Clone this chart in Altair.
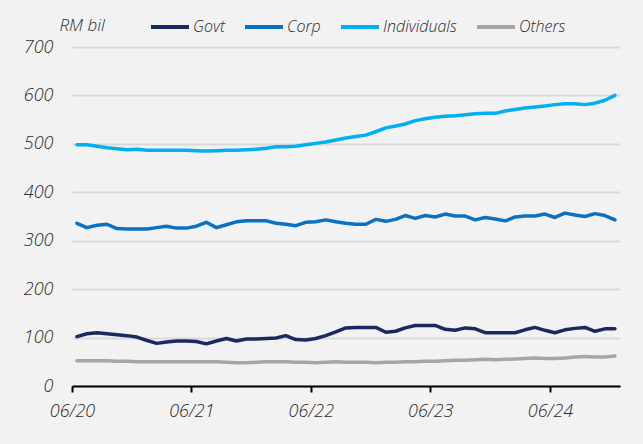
import altair as alt
import pandas as pd

# Monthly data, Jun 2020 .. Dec 2024
months = pd.date_range("2020-06-01", periods=55, freq="MS").strftime("%Y-%m-%d").tolist()

govt = [102, 108, 110, 108, 106, 104, 101, 94, 88, 91,
        93, 93, 92, 87, 93, 98, 93, 97, 97, 98,
        99, 104, 96, 95, 98, 104, 112, 120, 121, 121,
        121, 111, 113, 120, 125, 125, 125, 117, 115, 120,
        118, 110, 110, 110, 110, 116, 121, 115, 110, 116,
        119, 121, 113, 118, 118]
corp = [336, 327, 332, 334, 325, 324, 324, 324, 327, 330,
        326, 326, 330, 338, 327, 333, 339, 341, 341, 341,
        336, 334, 331, 338, 339, 343, 339, 336, 334, 334,
        344, 340, 344, 352, 346, 352, 349, 355, 351, 351,
        343, 348, 345, 341, 349, 351, 351, 355, 348, 357,
        353, 350, 356, 352, 343]
individuals = [498, 498, 495, 492, 490, 488, 489, 487, 487, 487,
               487, 487, 486, 485, 486, 487, 487, 488, 489, 491,
               494, 494, 495, 498, 501, 504, 508, 512, 515, 518,
               525, 533, 537, 541, 548, 552, 555, 557, 558, 560,
               562, 563, 563, 568, 571, 574, 576, 578, 581, 583,
               583, 581, 584, 590, 600]
others = [52, 52, 52, 52, 51, 51, 50, 50, 50, 50,
          50, 50, 50, 50, 50, 49, 48, 48, 49, 50,
          50, 50, 49, 49, 48, 49, 50, 49, 49, 49,
          48, 49, 49, 50, 50, 51, 51, 52, 53, 53,
          54, 55, 54, 55, 56, 57, 58, 57, 57, 58,
          60, 61, 60, 60, 62]

series_names = ["Govt", "Corp", "Individuals", "Others"]
series_colors = ["#1b2a5e", "#0a72c2", "#00b0f0", "#a6a6a6"]
y_ticks = [0, 100, 200, 300, 400, 500, 600, 700]
tick_years = [2020, 2021, 2022, 2023, 2024]

rows = []
for name, vals in zip(series_names, [govt, corp, individuals, others]):
    for m, v in zip(months, vals):
        rows.append({"month": m, "series": name, "value": v})
df = pd.DataFrame(rows)

FONT = "Open Sans"
TXT = "#2b2b2b"
W = 300

chart = alt.Chart(df).mark_line(
    strokeWidth=3.5, strokeCap="round", strokeJoin="round"
).encode(
    x=alt.X(
        "month:T", timeUnit="utcyearmonth", bandPosition=0.5,
        scale=alt.Scale(domain=[alt.DateTime(year=2020, month=6, date=1, utc=True),
                                alt.DateTime(year=2025, month=1, date=1, utc=True)]),
        axis=alt.Axis(
            values=[alt.DateTime(year=y, month=6, date=1, utc=True) for y in tick_years],
            labelExpr="utcFormat(datum.value, '%m/%y')",
            title=None, grid=False, labelFlush=False, labelOverlap=False,
            domainColor="#000000", domainWidth=2,
            tickColor="#000000", tickWidth=2, tickSize=6,
            labelPadding=10, labelFontSize=18, labelFont=FONT,
            labelFontStyle="italic", labelFontWeight=W, labelColor=TXT,
        ),
    ),
    y=alt.Y(
        "value:Q",
        scale=alt.Scale(domain=[0, 700]),
        axis=alt.Axis(
            values=y_ticks, title="RM bil", titleAngle=0,
            titleX=-13, titleY=-22, titleAlign="left", titleBaseline="middle",
            titleFont=FONT, titleFontSize=17, titleFontStyle="italic",
            titleFontWeight=W, titleColor=TXT,
            domain=False, ticks=False, labelPadding=19,
            gridColor="#d9d9d9", gridWidth=2,
            labelFontSize=18, labelFont=FONT, labelFontStyle="italic",
            labelFontWeight=W, labelColor=TXT,
        ),
    ),
    color=alt.Color(
        "series:N",
        scale=alt.Scale(domain=series_names, range=series_colors),
        legend=alt.Legend(
            orient="none", legendX=77, legendY=-41, direction="horizontal",
            title=None, symbolType="stroke", symbolSize=1444,
            symbolStrokeWidth=4, labelFontSize=16, labelFont=FONT,
            labelFontStyle="italic", labelFontWeight=W, labelColor=TXT,
            labelOffset=2, columnPadding=12, padding=0,
        ),
    ),
).properties(
    width=548, height=339,
    autosize=alt.AutoSizeParams(type="none"),
    padding={"left": 72, "top": 47, "right": 23, "bottom": 58},
    background="#f2f2f2",
).configure_view(stroke=None)

chart.save("out.html", embed_options={"renderer": "svg", "actions": False})
